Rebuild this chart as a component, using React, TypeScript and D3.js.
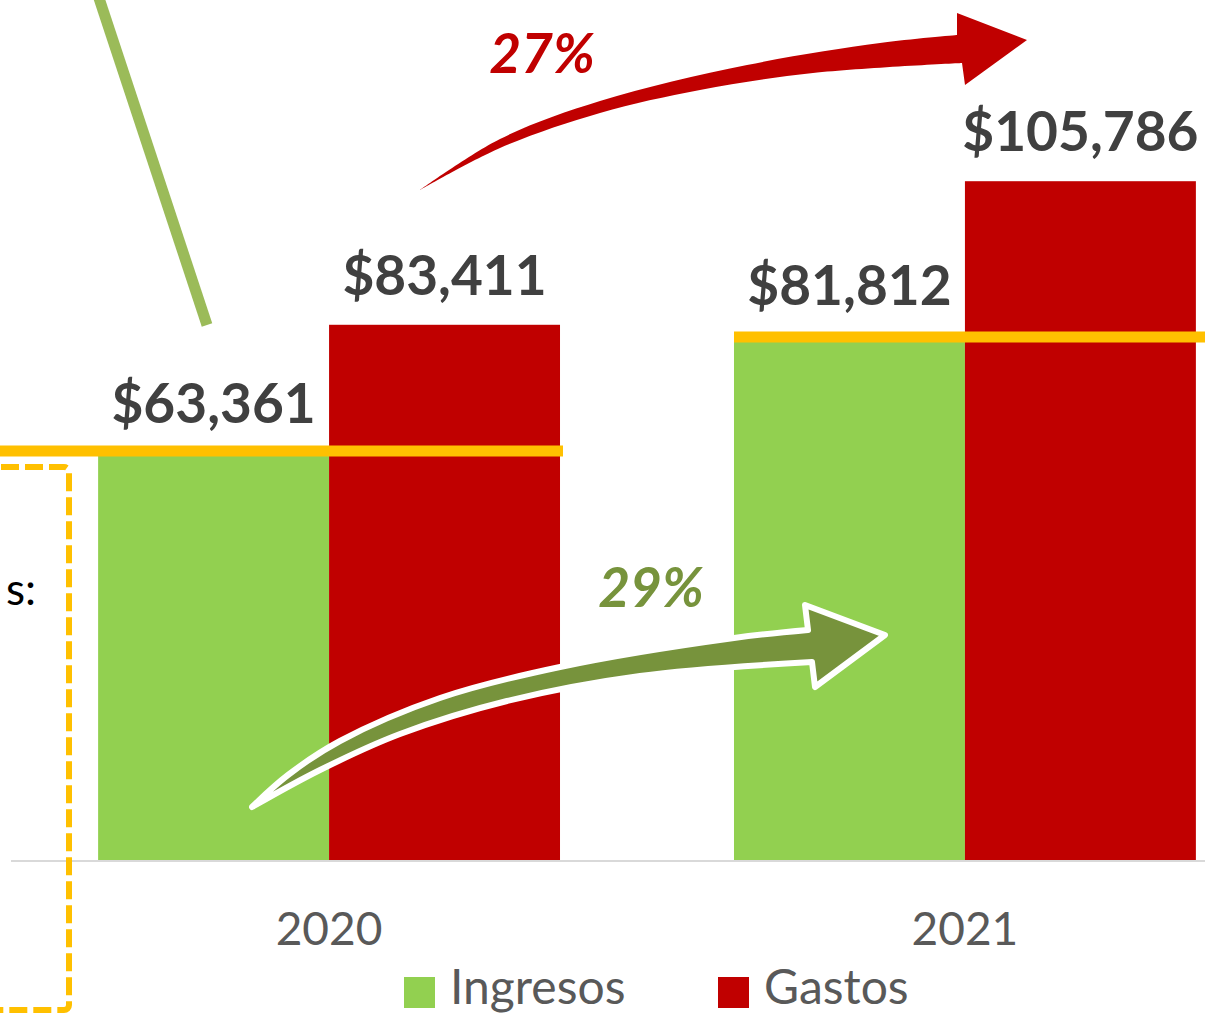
import React from "react";
import * as d3 from "d3";

const years = ["2020", "2021"];
const seriesNames = ["Ingresos", "Gastos"];
const ingresos = [63361, 81812];
const gastos = [83411, 105786];
const growthLabels = ["27%", "29%"];
const sideLabel = "s:";

const colors: Record<string, string> = { Ingresos: "#92d050", Gastos: "#c00000" };

// annotation shapes (arrow outlines)
const redUpper: [number, number][] = [[420,190],[500,139],[600,101],[747,65],[880,43],[957,35]];
const redHead: [number, number][] = [[957,13],[1027,40],[965,85],[962,63]];
const redLower: [number, number][] = [[962,63],[813,73],[700,90],[600,113],[500,148],[420,190]];

const greenUpper: [number, number][] = [[252,807],[288,775],[340,741],[440,698],[560,667],[734,638],[808,630]];
const greenHead: [number, number][] = [[805,605],[885,635],[815,687],[812,662]];
const greenLower: [number, number][] = [[812,662],[640,676],[507,701],[400,734],[320,770],[252,807]];

function arrowPath(upper: [number, number][], head: [number, number][], lower: [number, number][]) {
  const line = d3.line().curve(d3.curveCatmullRom.alpha(0.5));
  const up = line(upper) as string;
  const headStr = head.map((p) => `L${p[0]},${p[1]}`).join("");
  const low = (line(lower) as string).replace(/^M/, "L");
  return up + headStr + low + "Z";
}

export default function App() {
  const W = 1205, H = 1013;
  const x = d3.scaleBand().domain(years).range([11, 1283]).paddingInner(0.2736).paddingOuter(0.137);
  const xs = d3.scaleBand().domain(seriesNames).range([0, x.bandwidth()]).padding(0);
  const y = d3.scaleLinear().domain([0, 120000]).range([860, 90]);
  const data = years.map((yr, i) => ({ yr, Ingresos: ingresos[i], Gastos: gastos[i] }));
  const font = "Lato, 'Open Sans', sans-serif";

  return (
    <svg width={W} height={H} style={{ position: "absolute", left: 0, top: 0, background: "#fff" }} fontFamily={font}>
      {data.map((d) =>
        seriesNames.map((s) => {
          const v = (d as any)[s] as number;
          return (
            <rect key={d.yr + s} x={(x(d.yr) as number) + (xs(s) as number)} y={y(v)} width={xs.bandwidth()} height={y(0) - y(v)} fill={colors[s]} />
          );
        })
      )}
      <line x1={11} x2={W} y1={861} y2={861} stroke="#d9d9d9" strokeWidth={2} />
      <line x1={0} x2={563} y1={y(ingresos[0]) - 2.5} y2={y(ingresos[0]) - 2.5} stroke="#ffc000" strokeWidth={11} />
      <line x1={734} x2={W} y1={y(ingresos[1]) + 2} y2={y(ingresos[1]) + 2} stroke="#ffc000" strokeWidth={11} />
      <rect x={-100} y={467} width={169} height={543} rx={5} fill="none" stroke="#ffc000" strokeWidth={6} strokeDasharray="18 6" />
      <text x={36} y={605} fontSize={44} fill="#000" textAnchor="end">{sideLabel}</text>
      <line x1={93} x2={207} y1={-20} y2={325} stroke="#9bbb59" strokeWidth={11} />
      {data.map((d) =>
        seriesNames.map((s) => {
          const v = (d as any)[s] as number;
          const cx = (x(d.yr) as number) + (xs(s) as number) + xs.bandwidth() / 2;
          return (
            <text key={"l" + d.yr + s} x={cx} y={y(v) - 30} textAnchor="middle" fontSize={55} fontWeight="bold" fill="#404040">
              {"$" + d3.format(",")(v)}
            </text>
          );
        })
      )}
      <path d={arrowPath(redUpper, redHead, redLower)} fill="#c00000" />
      <path d={arrowPath(greenUpper, greenHead, greenLower)} fill="#77933c" stroke="#fff" strokeWidth={6} strokeLinejoin="round" />
      <text x={542} y={73} textAnchor="middle" fontSize={55} fontWeight="bold" fontStyle="italic" fill="#c00000">{growthLabels[0]}</text>
      <text x={651} y={607} textAnchor="middle" fontSize={55} fontWeight="bold" fontStyle="italic" fill="#77933c">{growthLabels[1]}</text>
      {years.map((yr) => (
        <text key={"x" + yr} x={(x(yr) as number) + x.bandwidth() / 2} y={945} textAnchor="middle" fontSize={46} fill="#595959">{yr}</text>
      ))}
      {seriesNames.map((s, i) => {
        const lx = [404, 718][i];
        return (
          <g key={"lg" + s}>
            <rect x={lx} y={977} width={31} height={31} fill={colors[s]} />
            <text x={lx + 46} y={1004} fontSize={48} fill="#595959">{s}</text>
          </g>
        );
      })}
    </svg>
  );
}
